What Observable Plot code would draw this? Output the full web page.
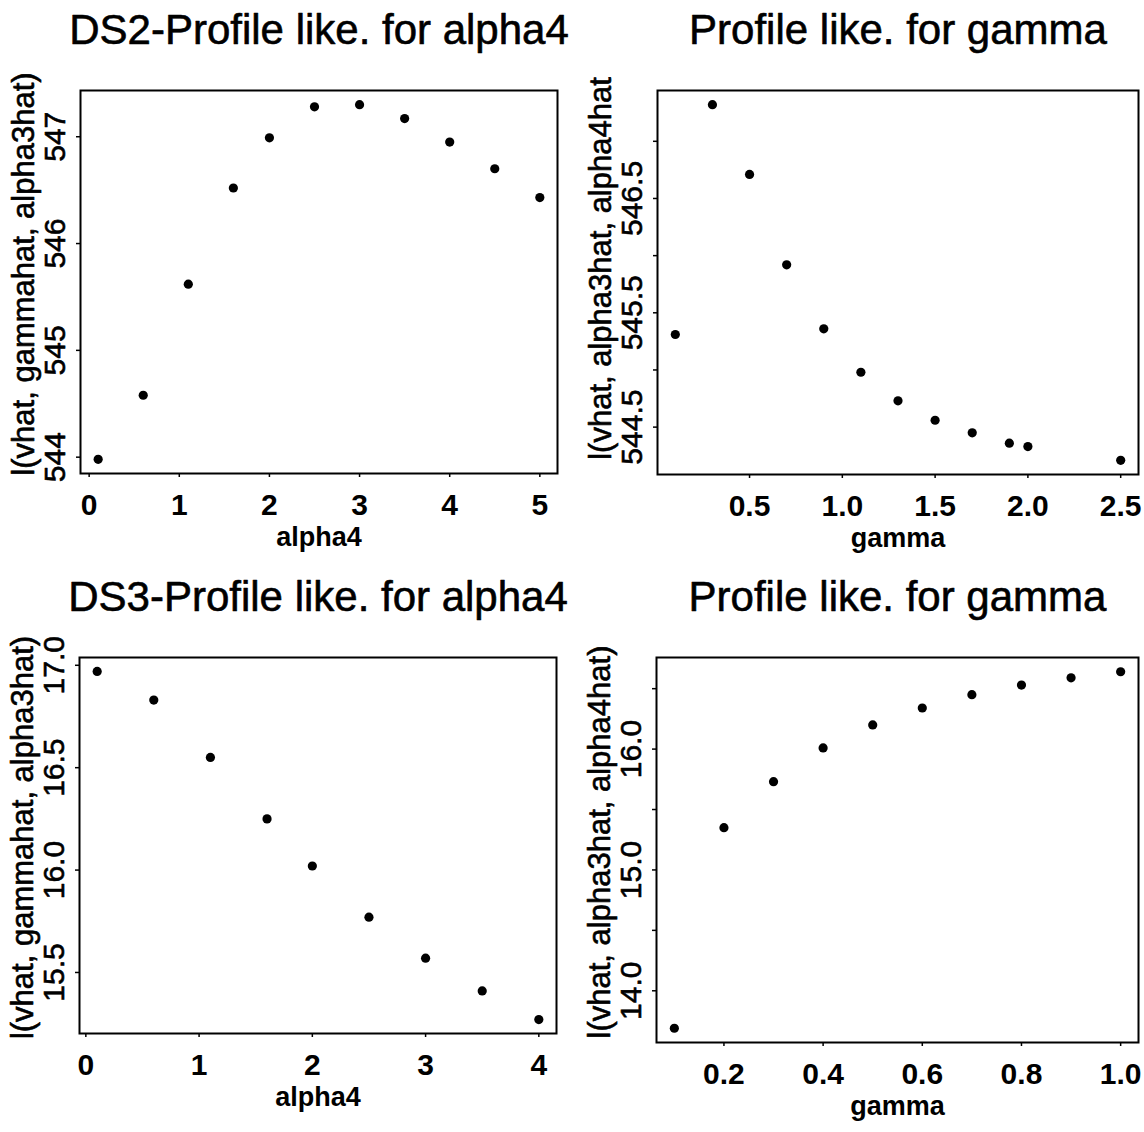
<!DOCTYPE html>
<html><head><meta charset="utf-8">
<script src="https://cdn.jsdelivr.net/npm/d3@7"></script>
<script src="https://cdn.jsdelivr.net/npm/@observablehq/plot@0.6"></script>
<style>
body{margin:0;background:#fff;}
#wrap{position:relative;width:1144px;height:1132px;background:#fff;}
.panel{position:absolute;}
</style></head><body><div id="wrap"></div>
<script>
// ---- data ----
const ds2Alpha4 = [0.1, 0.6, 1.1, 1.6, 2.0, 2.5, 3.0, 3.5, 4.0, 4.5, 5.0];
const ds2LikAlpha4 = [543.98, 544.58, 545.62, 546.52, 546.99, 547.28, 547.30, 547.17, 546.95, 546.70, 546.43];
const ds2Gamma = [0.1, 0.3, 0.5, 0.7, 0.9, 1.1, 1.3, 1.5, 1.7, 1.9, 2.0, 2.5];
const ds2LikGamma = [545.31, 547.32, 546.71, 545.92, 545.36, 544.98, 544.73, 544.56, 544.45, 544.36, 544.33, 544.21];
const ds3Alpha4 = [0.1, 0.6, 1.1, 1.6, 2.0, 2.5, 3.0, 3.5, 4.0];
const ds3LikAlpha4 = [16.97, 16.83, 16.55, 16.25, 16.02, 15.77, 15.57, 15.41, 15.27];
const ds3Gamma = [0.1, 0.2, 0.3, 0.4, 0.5, 0.6, 0.7, 0.8, 0.9, 1.0];
const ds3LikGamma = [13.69, 15.35, 15.73, 16.01, 16.20, 16.34, 16.45, 16.53, 16.59, 16.64];

// ---- tick values & labels ----
const tlXTicks = [0, 1, 2, 3, 4, 5];
const tlYTicks = [544, 545, 546, 547];
const tlYLabels = [544, 545, 546, 547];
const trXTicks = [0.5, 1.0, 1.5, 2.0, 2.5];
const trYTicks = [544.5, 545.0, 545.5, 546.0, 546.5, 547.0];
const trYLabels = [544.5, 545.5, 546.5];
const blXTicks = [0, 1, 2, 3, 4];
const blYTicks = [15.5, 16.0, 16.5, 17.0];
const blYLabels = [15.5, 16.0, 16.5, 17.0];
const brXTicks = [0.2, 0.4, 0.6, 0.8, 1.0];
const brYTicks = [14.0, 14.5, 15.0, 15.5, 16.0, 16.5];
const brYLabels = [14.0, 15.0, 16.0];

const titles = ["DS2-Profile like. for alpha4", "Profile like. for gamma", "DS3-Profile like. for alpha4", "Profile like. for gamma"];
const xLabels = ["alpha4", "gamma", "alpha4", "gamma"];
const yLabels = ["l(vhat, gammahat, alpha3hat)", "l(vhat, alpha3hat, alpha4hat", "l(vhat, gammahat, alpha3hat)", "l(vhat, alpha3hat, alpha4hat)"];

const font = "'Liberation Sans', Arial, Helvetica, sans-serif";
const f0 = d => String(d);
const f1 = d => d.toFixed(1);
// R-style axis range: data range extended by 4% on each side
function rRange(v) { const [a, b] = d3.extent(v); const p = (b - a) * 0.04; return [a - p, b + p]; }

function panel(o) {
  const data = o.xs.map((x, i) => ({x, y: o.ys[i]}));
  const heavy = {fill: "black", stroke: "black", strokeWidth: 0.6};
  const chart = Plot.plot({
    width: 572, height: 566,
    marginLeft: o.ml, marginRight: o.mr, marginTop: o.mt, marginBottom: o.mb,
    style: {fontFamily: font, background: "white", color: "black", overflow: "visible"},
    x: {domain: rRange(o.xs)},
    y: {domain: rRange(o.ys)},
    marks: [
      Plot.axisX(o.xTicks, {label: null, tickSize: 4, tickPadding: 16, tickFormat: o.xFmt, fontSize: 30, fontWeight: "bold", strokeWidth: 1.5}),
      Plot.axisY(o.yTicks, {label: null, tickSize: 4, tickFormat: () => "", strokeWidth: 1.5}),
      Plot.text(o.yLab, {y: d => d, text: o.yFmt, frameAnchor: "left", rotate: -90, dx: -25, textAnchor: "middle", lineAnchor: "middle", fontSize: 30, ...heavy}),
      Plot.frame({stroke: "black", strokeWidth: 2}),
      Plot.dot(data, {x: "x", y: "y", r: 4.6, fill: "black"}),
      Plot.text([o.title], {text: d => d, frameAnchor: "top", dy: -60, lineAnchor: "middle", fontSize: 42, ...heavy}),
      Plot.text([o.xLabel], {text: d => d, frameAnchor: "bottom", dy: 64, lineAnchor: "middle", fontSize: 27, fontWeight: "bold"}),
      Plot.text([o.yLabel], {text: d => d, frameAnchor: "left", dx: -56, dy: o.yTitleDy, rotate: -90, textAnchor: "middle", lineAnchor: "middle", fontSize: 31, ...heavy})
    ]
  });
  const div = document.createElement("div");
  div.className = "panel";
  div.style.left = o.left + "px";
  div.style.top = o.top + "px";
  div.appendChild(chart);
  document.getElementById("wrap").appendChild(div);
}

panel({title: titles[0], xs: ds2Alpha4, ys: ds2LikAlpha4, xLabel: xLabels[0], yLabel: yLabels[0],
  xTicks: tlXTicks, xFmt: f0, yTicks: tlYTicks, yLab: tlYLabels, yFmt: f0, yTitleDy: -8,
  left: 0, top: 0, ml: 80, mr: 15, mt: 90, mb: 93});
panel({title: titles[1], xs: ds2Gamma, ys: ds2LikGamma, xLabel: xLabels[1], yLabel: yLabels[1],
  xTicks: trXTicks, xFmt: f1, yTicks: trYTicks, yLab: trYLabels, yFmt: f1, yTitleDy: -14,
  left: 572, top: 0, ml: 85, mr: 6, mt: 90, mb: 92});
panel({title: titles[2], xs: ds3Alpha4, ys: ds3LikAlpha4, xLabel: xLabels[2], yLabel: yLabels[2],
  xTicks: blXTicks, xFmt: f0, yTicks: blYTicks, yLab: blYLabels, yFmt: f1, yTitleDy: -8,
  left: 0, top: 566, ml: 79, mr: 16, mt: 91, mb: 99});
panel({title: titles[3], xs: ds3Gamma, ys: ds3LikGamma, xLabel: xLabels[3], yLabel: yLabels[3],
  xTicks: brXTicks, xFmt: f1, yTicks: brYTicks, yLab: brYLabels, yFmt: f1, yTitleDy: -8,
  left: 572, top: 566, ml: 84, mr: 6, mt: 91, mb: 90});
</script></body></html>
